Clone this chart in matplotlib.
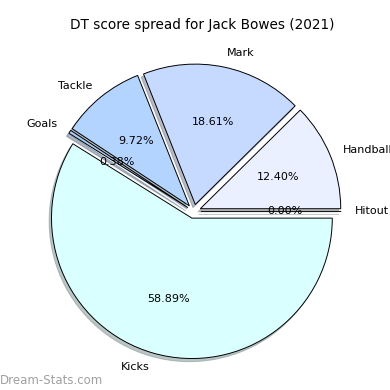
import matplotlib
matplotlib.use("Agg")
import matplotlib.pyplot as plt

# DT score share per stat
labels = ["Hitout", "Handball", "Mark", "Tackle", "Goals", "Kicks"]
values = [0.00, 12.40, 18.61, 9.72, 0.38, 58.89]
colors = ["#f2f5ff", "#eaf0ff", "#c6d9ff", "#b3d4ff", "#a8c8f0", "#d9ffff"]
explode = [0.05] * len(labels)

fig = plt.figure(figsize=(3.9, 3.9), dpi=100)
ax = fig.add_axes([0.047, 0.008, 0.90, 0.90])

ax.pie(values, labels=labels, colors=colors, explode=explode,
       autopct="%1.2f%%", startangle=0,
       shadow={"ox": -0.012, "oy": -0.016, "shade": 0.45},
       wedgeprops={"edgecolor": "black", "linewidth": 0.7},
       textprops={"fontsize": 8})
ax.set_aspect("equal")

fig.suptitle("DT score spread for Jack Bowes (2021)", fontsize=9.8,
             x=0.518, y=0.953)
fig.text(0.0, 0.025, "Dream-Stats.com", fontsize=8.5, color="#a0a0a0",
         ha="left", va="center")

fig.savefig("out.png", dpi=100)
